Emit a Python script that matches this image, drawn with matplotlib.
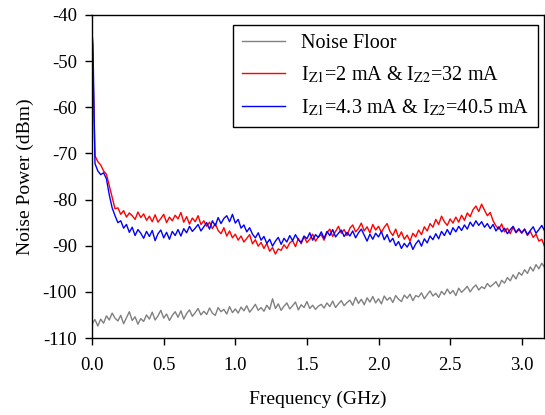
import numpy as np
import matplotlib
matplotlib.use('Agg')
import matplotlib.pyplot as plt

plt.rcParams['font.family'] = ['Liberation Serif', 'DejaVu Serif']
plt.rcParams['mathtext.fontset'] = 'stix'
plt.rcParams['axes.unicode_minus'] = False

# spectrum analyser sweep, 0.02 GHz steps plus one extra point right after DC
freq = np.concatenate([[0.0, 0.006], np.round(np.arange(1, 159) * 0.02, 3)])

noise_floor = [
    -107.2, -106.6, -106.0, -107.4, -105.9, -106.8, -105.2, -106.1, -104.6, -105.7, -106.3,
    -105.1, -106.9, -105.6, -104.3, -106.2, -105.4, -107.0, -105.8, -106.4, -105.0,
    -105.9, -104.4, -106.1, -105.2, -104.0, -105.7, -104.8, -106.2, -105.1, -104.3,
    -105.5, -104.1, -105.9, -104.7, -103.9, -105.3, -104.5, -103.6, -105.0, -104.2,
    -104.9, -103.5, -104.6, -105.1, -103.4, -104.3, -103.8, -104.8, -103.2, -104.5,
    -103.7, -104.6, -103.3, -104.1, -103.0, -104.4, -103.6, -102.7, -104.0, -103.4,
    -104.2, -102.9, -103.8, -101.5, -103.6, -102.6, -104.0, -103.1, -102.4, -103.7,
    -103.0, -102.2, -103.9, -102.8, -103.4, -102.1, -103.6, -102.9, -103.8, -103.1,
    -102.7, -103.5, -102.4, -103.2, -102.0, -103.4, -102.6, -101.9, -103.0, -102.3,
    -101.8, -102.9, -101.2, -102.5, -101.6, -102.8, -101.3, -102.2, -101.0, -102.4,
    -101.5, -102.6, -100.9, -101.8, -101.2, -102.3, -100.8, -101.6, -102.1, -100.7,
    -101.4, -100.5, -101.9, -100.8, -101.1, -100.2, -101.5, -100.6, -99.8, -100.9,
    -100.3, -101.2, -99.9, -100.6, -99.4, -100.4, -99.7, -100.8, -99.2, -100.1,
    -99.5, -98.8, -100.0, -99.1, -98.5, -99.6, -98.9, -99.3, -98.2, -98.9,
    -98.4, -97.8, -98.9, -97.5, -98.1, -96.9, -97.6, -96.3, -97.2, -95.8,
    -96.4, -95.2, -96.0, -94.6, -95.5, -94.1, -95.0, -93.8, -94.7,
]

case1 = [
    -44.5, -52.0, -70.5, -71.8, -72.5, -73.8, -74.5, -77.0, -79.5, -82.0, -81.8,
    -83.2, -82.4, -83.8, -82.9, -83.5, -84.3, -82.7, -83.9, -83.1, -84.5,
    -83.6, -84.8, -83.3, -84.9, -84.1, -83.2, -85.0, -83.8, -84.6, -83.4,
    -84.2, -82.8, -84.9, -83.7, -85.3, -84.0, -84.8, -83.5, -85.4, -84.6,
    -85.8, -84.9, -86.3, -85.2, -86.7, -87.4, -86.1, -87.9, -86.8, -88.3,
    -87.5, -88.8, -87.9, -89.2, -88.4, -87.6, -89.6, -88.7, -90.1, -89.3,
    -90.6, -89.5, -91.2, -90.4, -91.8, -90.7, -91.0, -89.8, -90.6, -89.4,
    -88.9, -90.2, -88.4, -89.6, -88.0, -89.3, -88.6, -87.5, -89.0, -88.1,
    -87.6, -88.8, -87.2, -86.4, -88.0, -86.9, -85.8, -87.3, -86.5, -87.8,
    -86.2, -85.5, -87.0, -86.3, -85.1, -86.8, -85.9, -87.2, -85.4, -86.6,
    -85.8, -87.1, -86.0, -85.2, -86.9, -87.8, -86.4, -88.2, -87.0, -88.6,
    -87.7, -89.0, -87.3, -88.1, -86.6, -87.6, -85.9, -86.8, -85.2, -86.0,
    -84.3, -85.4, -83.6, -84.8, -85.6, -84.2, -85.1, -83.8, -84.9, -83.4,
    -84.5, -82.9, -83.7, -82.2, -81.4, -82.6, -81.0, -82.3, -83.5, -82.8,
    -84.6, -85.7, -86.4, -85.3, -87.0, -86.2, -87.4, -86.0, -87.2, -86.5,
    -87.3, -86.4, -87.8, -86.9, -88.2, -87.5, -89.0, -88.6, -90.2,
]

case2 = [
    -44.0, -46.5, -72.2, -73.8, -74.6, -74.2, -75.5, -79.0, -81.8, -83.5, -85.0,
    -84.6, -86.2, -85.4, -87.1, -86.0, -87.8, -86.5, -87.3, -88.4, -86.9,
    -88.0, -86.7, -88.9, -87.4, -86.6, -88.3, -87.1, -88.6, -86.9, -87.8,
    -86.5, -87.9, -86.3, -87.2, -85.8, -86.9, -86.2, -85.4, -86.8, -85.9,
    -85.0, -86.4, -84.6, -85.7, -83.9, -85.2, -84.1, -83.5, -84.8, -83.2,
    -85.1, -84.3, -86.2, -85.5, -87.0, -86.1, -87.5, -88.3, -87.2, -88.8,
    -88.0, -89.5, -88.6, -90.1, -89.0, -88.2, -89.7, -88.4, -89.2, -87.8,
    -88.9, -87.6, -88.7, -89.3, -87.9, -88.5, -87.2, -88.8, -87.6, -88.2,
    -87.0, -88.4, -86.9, -87.8, -86.5, -88.1, -87.3, -86.6, -88.0, -87.1,
    -87.9, -86.8, -88.3, -87.2, -86.4, -87.7, -89.0, -87.5, -88.6, -87.3,
    -88.1, -86.9, -88.7, -87.6, -89.2, -88.4, -90.0, -89.1, -90.6, -89.5,
    -90.3, -89.2, -90.8, -89.6, -88.8, -90.1, -88.5, -89.4, -87.9, -88.7,
    -87.4, -88.5, -86.9, -87.8, -86.5, -87.6, -86.1, -87.0, -85.8, -86.7,
    -85.5, -86.4, -84.9, -85.8, -84.6, -85.6, -84.8, -86.0, -85.2, -86.3,
    -85.4, -86.8, -85.9, -87.0, -86.2, -87.4, -86.5, -85.8, -87.1, -86.3,
    -87.2, -86.4, -87.6, -86.7, -85.9, -87.3, -86.5, -85.6, -86.8,
]

labels = ['Noise Floor',
          r'I$_{\mathrm{Z1}}$=2 mA & I$_{\mathrm{Z2}}$=32 mA',
          r'I$_{\mathrm{Z1}}$=4.3 mA & I$_{\mathrm{Z2}}$=40.5 mA']

fig = plt.figure(figsize=(5.45, 4.15), dpi=100)
ax = fig.add_axes([0.169, 0.1855, 0.829, 0.7785])

ax.plot(freq, noise_floor, color='#808080', lw=1.0, label=labels[0])
ax.plot(freq, case1, color='#ff0000', lw=1.0, label=labels[1])
ax.plot(freq, case2, color='#0000ff', lw=1.0, label=labels[2])

ax.set_xlim(0, 3.155)
ax.set_ylim(-110, -40)
ax.set_xticks([0.0, 0.5, 1.0, 1.5, 2.0, 2.5, 3.0])
ax.set_xticklabels(['0.0', '0.5', '1.0', '1.5', '2.0', '2.5', '3.0'])
ax.set_yticks(range(-110, -39, 10))
ax.tick_params(direction='out', length=5, width=1, labelsize=13.5)
ax.tick_params(axis='x', pad=9)
ax.tick_params(axis='y', pad=6)
ax.set_xlabel('Frequency (GHz)', fontsize=14, labelpad=12)
ax.set_ylabel('Noise Power (dBm)', fontsize=14, labelpad=6)
for s in ax.spines.values():
    s.set_linewidth(1.0)

leg = ax.legend(loc='upper right', bbox_to_anchor=(0.987, 0.969), borderaxespad=0,
                fontsize=14.5, fancybox=False, framealpha=1, edgecolor='black',
                handlelength=2.1, handletextpad=0.8, labelspacing=0.58, borderpad=0.45)
leg.get_frame().set_linewidth(1.0)

fig.savefig('out.png', dpi=100)
